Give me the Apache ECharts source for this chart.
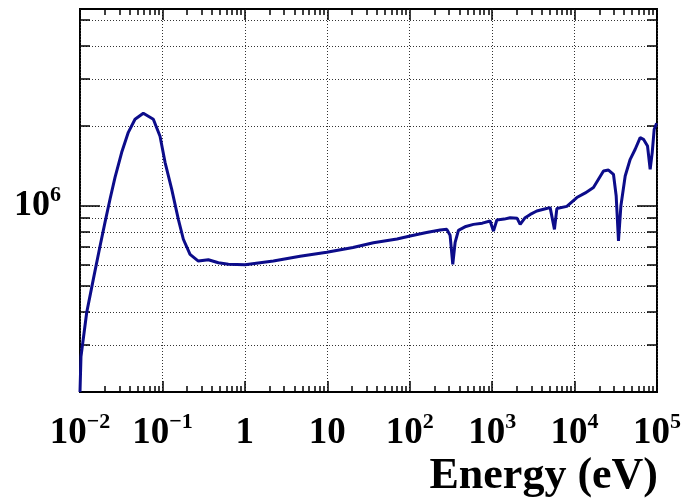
<!DOCTYPE html>
<html>
<head>
<meta charset="utf-8">
<script src="https://cdn.jsdelivr.net/npm/echarts@6/dist/echarts.min.js"></script>
<style>
  html, body { margin: 0; padding: 0; background: #fff; }
  #chart { width: 681px; height: 502px; }
</style>
</head>
<body>
<div id="chart"></div>
<script>
// energy in eV, flux (arb. units)
var energy = [0.01, 0.01028, 0.01206, 0.0145, 0.01749, 0.0201, 0.02312, 0.0266, 0.03206, 0.03856,
  0.0465, 0.05863, 0.07756, 0.09352, 0.1076, 0.1297, 0.156, 0.1794, 0.2163, 0.2727,
  0.3606, 0.477, 0.6306, 1.0055, 2.218, 4.676, 9.86, 20.5, 36.3, 70.1,
  101.1, 160, 233.9, 282, 309, 333, 355.6, 390, 480, 593,
  760, 945, 1037, 1141, 1400, 1653, 2010, 2188, 2513, 2900,
  3484, 4200, 5055, 5700, 6095, 8057, 10660, 13500, 16950, 22430,
  25780, 29640, 31980, 34110, 36460, 41130, 47300, 54370, 62500, 68550,
  76740, 82600, 87500, 92500, 99000];
var flux = [2.0e5, 2.72e5, 3.98e5, 5.3e5, 7.06e5, 8.68e5, 1.06e6, 1.282e6, 1.592e6, 1.892e6,
  2.118e6, 2.231e6, 2.118e6, 1.828e6, 1.46e6, 1.155e6, 8.91e5, 7.5e5, 6.58e5, 6.21e5,
  6.28e5, 6.12e5, 6.04e5, 6.01e5, 6.21e5, 6.47e5, 6.7e5, 6.98e5, 7.28e5, 7.52e5,
  7.71e5, 7.95e5, 8.12e5, 8.17e5, 7.76e5, 6.04e5, 7.3e5, 8.1e5, 8.38e5, 8.53e5,
  8.62e5, 8.78e5, 8.05e5, 8.86e5, 8.93e5, 9.04e5, 8.99e5, 8.53e5, 9.04e5, 9.3e5,
  9.58e5, 9.72e5, 9.86e5, 8.17e5, 9.78e5, 9.97e5, 1.076e6, 1.12e6, 1.173e6, 1.354e6,
  1.365e6, 1.316e6, 1.09e6, 7.39e5, 1.0e6, 1.297e6, 1.498e6, 1.634e6, 1.807e6, 1.781e6,
  1.681e6, 1.374e6, 1.588e6, 1.943e6, 2.046e6];

var xDecades = [-2, -1, 0, 1, 2, 3, 4, 5];
var xPlainLabels = { '0': '1', '1': '10' };
var yGridValues = [3e5, 4e5, 5e5, 6e5, 7e5, 8e5, 9e5, 1e6, 2e6, 3e6, 4e6, 5e6];
var yLabelValues = [1e6];
var yMin = 2e5, yMax = 5.5e6;

var xMinorTicks = [];
for (var d = 0; d < xDecades.length - 1; d++) {
  for (var m = 2; m <= 9; m++) xMinorTicks.push(m * Math.pow(10, xDecades[d]));
}

var FONT = 'Liberation Serif';
var GRID_LINE = { color: '#333', type: [1, 2], width: 1 };
var rich = {
  b: { fontSize: 37, fontWeight: 'bold', fontFamily: FONT, color: '#000', lineHeight: 44 },
  s: { fontSize: 22, fontWeight: 'bold', fontFamily: FONT, color: '#000', lineHeight: 22, verticalAlign: 'top' }
};
function powLabel(v) {
  var e = Math.round(Math.log10(v));
  if (xPlainLabels[e] !== undefined) return '{b|' + xPlainLabels[e] + '}';
  return '{b|10}{s|' + (e < 0 ? '\u2212' : '') + Math.abs(e) + '}';
}

function xAx(pos, minor, labels) {
  return {
    type: 'log', logBase: 10, min: 0.01, max: 1e5, interval: 1, position: pos,
    axisLine: { show: false },
    axisTick: minor
      ? { show: true, inside: true, length: 6, customValues: xMinorTicks, lineStyle: { color: '#000', width: 1.5 } }
      : { show: true, inside: true, length: 11, lineStyle: { color: '#000', width: 1.5 } },
    axisLabel: labels
      ? { show: true, margin: 19, formatter: powLabel, rich: rich }
      : { show: false },
    splitLine: labels ? { show: true, lineStyle: GRID_LINE } : { show: false },
    minorTick: { show: false }
  };
}
function yAx(pos, major, labels) {
  return {
    type: 'log', logBase: 10, min: yMin, max: yMax, position: pos,
    axisLine: { show: false },
    axisTick: major
      ? { show: true, inside: true, length: 20, customValues: yLabelValues, lineStyle: { color: '#000', width: 1.5 } }
      : { show: true, inside: true, length: 10, customValues: yGridValues, lineStyle: { color: '#000', width: 1.5 } },
    axisLabel: labels
      ? { show: true, margin: 19, customValues: yLabelValues, formatter: function () { return '{b|10}{s|6}'; },
          rich: { b: Object.assign({}, rich.b, { fontSize: 36 }), s: rich.s } }
      : { show: false },
    splitLine: (!major && pos === 'left') ? { show: true, lineStyle: GRID_LINE } : { show: false }
  };
}

var chart = echarts.init(document.getElementById('chart'), null, { renderer: 'canvas' });
chart.setOption({
  animation: false,
  backgroundColor: '#fff',
  title: {
    text: 'Energy (eV)', right: 23, top: 455, padding: 0,
    textStyle: { fontSize: 44, fontWeight: 'bold', fontFamily: FONT, color: '#000', lineHeight: 44 }
  },
  grid: {
    left: 80, right: 24, top: 9, bottom: 110, outerBoundsMode: 'none',
    show: true, borderColor: '#000', borderWidth: 2, backgroundColor: '#fff'
  },
  xAxis: [xAx('bottom', false, true), xAx('bottom', true, false), xAx('top', false, false), xAx('top', true, false)],
  yAxis: [yAx('left', true, true), yAx('left', false, false), yAx('right', true, false), yAx('right', false, false)],
  series: [{
    type: 'line', xAxisIndex: 0, yAxisIndex: 0, showSymbol: false, symbol: 'none',
    lineStyle: { color: '#0c0c8a', width: 3 },
    data: energy.map(function (e, i) { return [e, flux[i]]; })
  }]
});
</script>
</body>
</html>
